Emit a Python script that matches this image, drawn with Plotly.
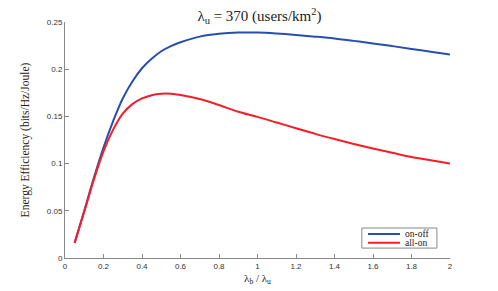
import plotly.graph_objects as go

x_vals = [0.05, 0.1, 0.15, 0.2, 0.25, 0.3, 0.35, 0.4, 0.45, 0.5, 0.55, 0.6, 0.7, 0.8, 0.9,
          1.0, 1.1, 1.2, 1.3, 1.4, 1.5, 1.6, 1.7, 1.8, 1.9, 2.0]
on_off = [0.016, 0.050, 0.085, 0.117, 0.145, 0.169, 0.187, 0.201, 0.211, 0.219, 0.2245, 0.2285,
          0.2345, 0.2375, 0.2388, 0.2388, 0.2378, 0.2363, 0.2345, 0.2325, 0.2300, 0.2273,
          0.2245, 0.2215, 0.2185, 0.2155]
all_on = [0.016, 0.049, 0.083, 0.113, 0.136, 0.153, 0.163, 0.169, 0.1725, 0.1740, 0.1740,
          0.1727, 0.1685, 0.1620, 0.1550, 0.1495, 0.1435, 0.1375, 0.1315, 0.1260, 0.1208,
          0.1160, 0.1115, 0.1070, 0.1035, 0.1000]

series_names = ["on-off", "all-on"]
series_colors = ["rgb(40,80,170)", "rgb(245,30,40)"]

x_ticks = [0, 0.2, 0.4, 0.6, 0.8, 1.0, 1.2, 1.4, 1.6, 1.8, 2.0]
x_tick_text = ["0", "0.2", "0.4", "0.6", "0.8", "1", "1.2", "1.4", "1.6", "1.8", "2"]
y_ticks = [0, 0.05, 0.1, 0.15, 0.2, 0.25]
y_tick_text = ["0", "0.05", "0.1", "0.15", "0.2", "0.25"]

serif = "Liberation Serif, DejaVu Serif, serif"
sans = "Liberation Sans, Arial, sans-serif"

fig = go.Figure()
for name, ys, col in zip(series_names, [on_off, all_on], series_colors):
    fig.add_trace(go.Scatter(x=x_vals, y=ys, mode="lines", name=name, showlegend=False,
                             line=dict(color=col, width=2, shape="spline")))

# compact legend box (MATLAB style)
fig.add_shape(type="rect", xref="paper", yref="paper", x0=0.771, x1=0.966, y0=0.042, y1=0.127,
              line=dict(color="#888", width=1), fillcolor="white", layer="above")
leg_y = [0.102, 0.065]
for name, col, ly in zip(series_names, series_colors, leg_y):
    fig.add_shape(type="line", xref="paper", yref="paper", x0=0.787, x1=0.870, y0=ly, y1=ly,
                  line=dict(color=col, width=2), layer="above")
    fig.add_annotation(xref="paper", yref="paper", x=0.879, y=ly, text=name, showarrow=False,
                       xanchor="left", yanchor="middle",
                       font=dict(family=serif, size=9.5, color="#222"))

fig.update_layout(
    width=498, height=291,
    margin=dict(l=65, r=48, t=22, b=33),
    paper_bgcolor="white", plot_bgcolor="white",
    title=dict(text="λ<sub>u</sub> = 370 (users/km<sup>2</sup>)",
               font=dict(family=serif, size=15, color="#222"),
               x=0.521, xanchor="center", y=0.945, yanchor="middle"),
    xaxis=dict(range=[0, 2], tickvals=x_ticks, ticktext=x_tick_text, automargin=False,
               showgrid=False, zeroline=False, showline=True, linecolor="#888",
               ticks="inside", ticklen=4, tickcolor="#888",
               tickfont=dict(family=sans, size=8, color="#333"),
               title=dict(text="λ<sub>b</sub> / λ<sub>u</sub>", standoff=4,
                          font=dict(family=serif, size=11, color="#222"))),
    yaxis=dict(range=[0, 0.25], tickvals=y_ticks, ticktext=y_tick_text, automargin=False,
               showgrid=False, zeroline=False, showline=True, linecolor="#888",
               ticks="inside", ticklen=4, tickcolor="#888",
               tickfont=dict(family=sans, size=8, color="#333"),
               title=dict(text="Energy Efficiency (bits/Hz/Joule)", standoff=14,
                          font=dict(family=serif, size=11.5, color="#222"))),
)

fig.write_html("out.html", config={"displayModeBar": False},
               post_script="document.body.style.margin='0';")
